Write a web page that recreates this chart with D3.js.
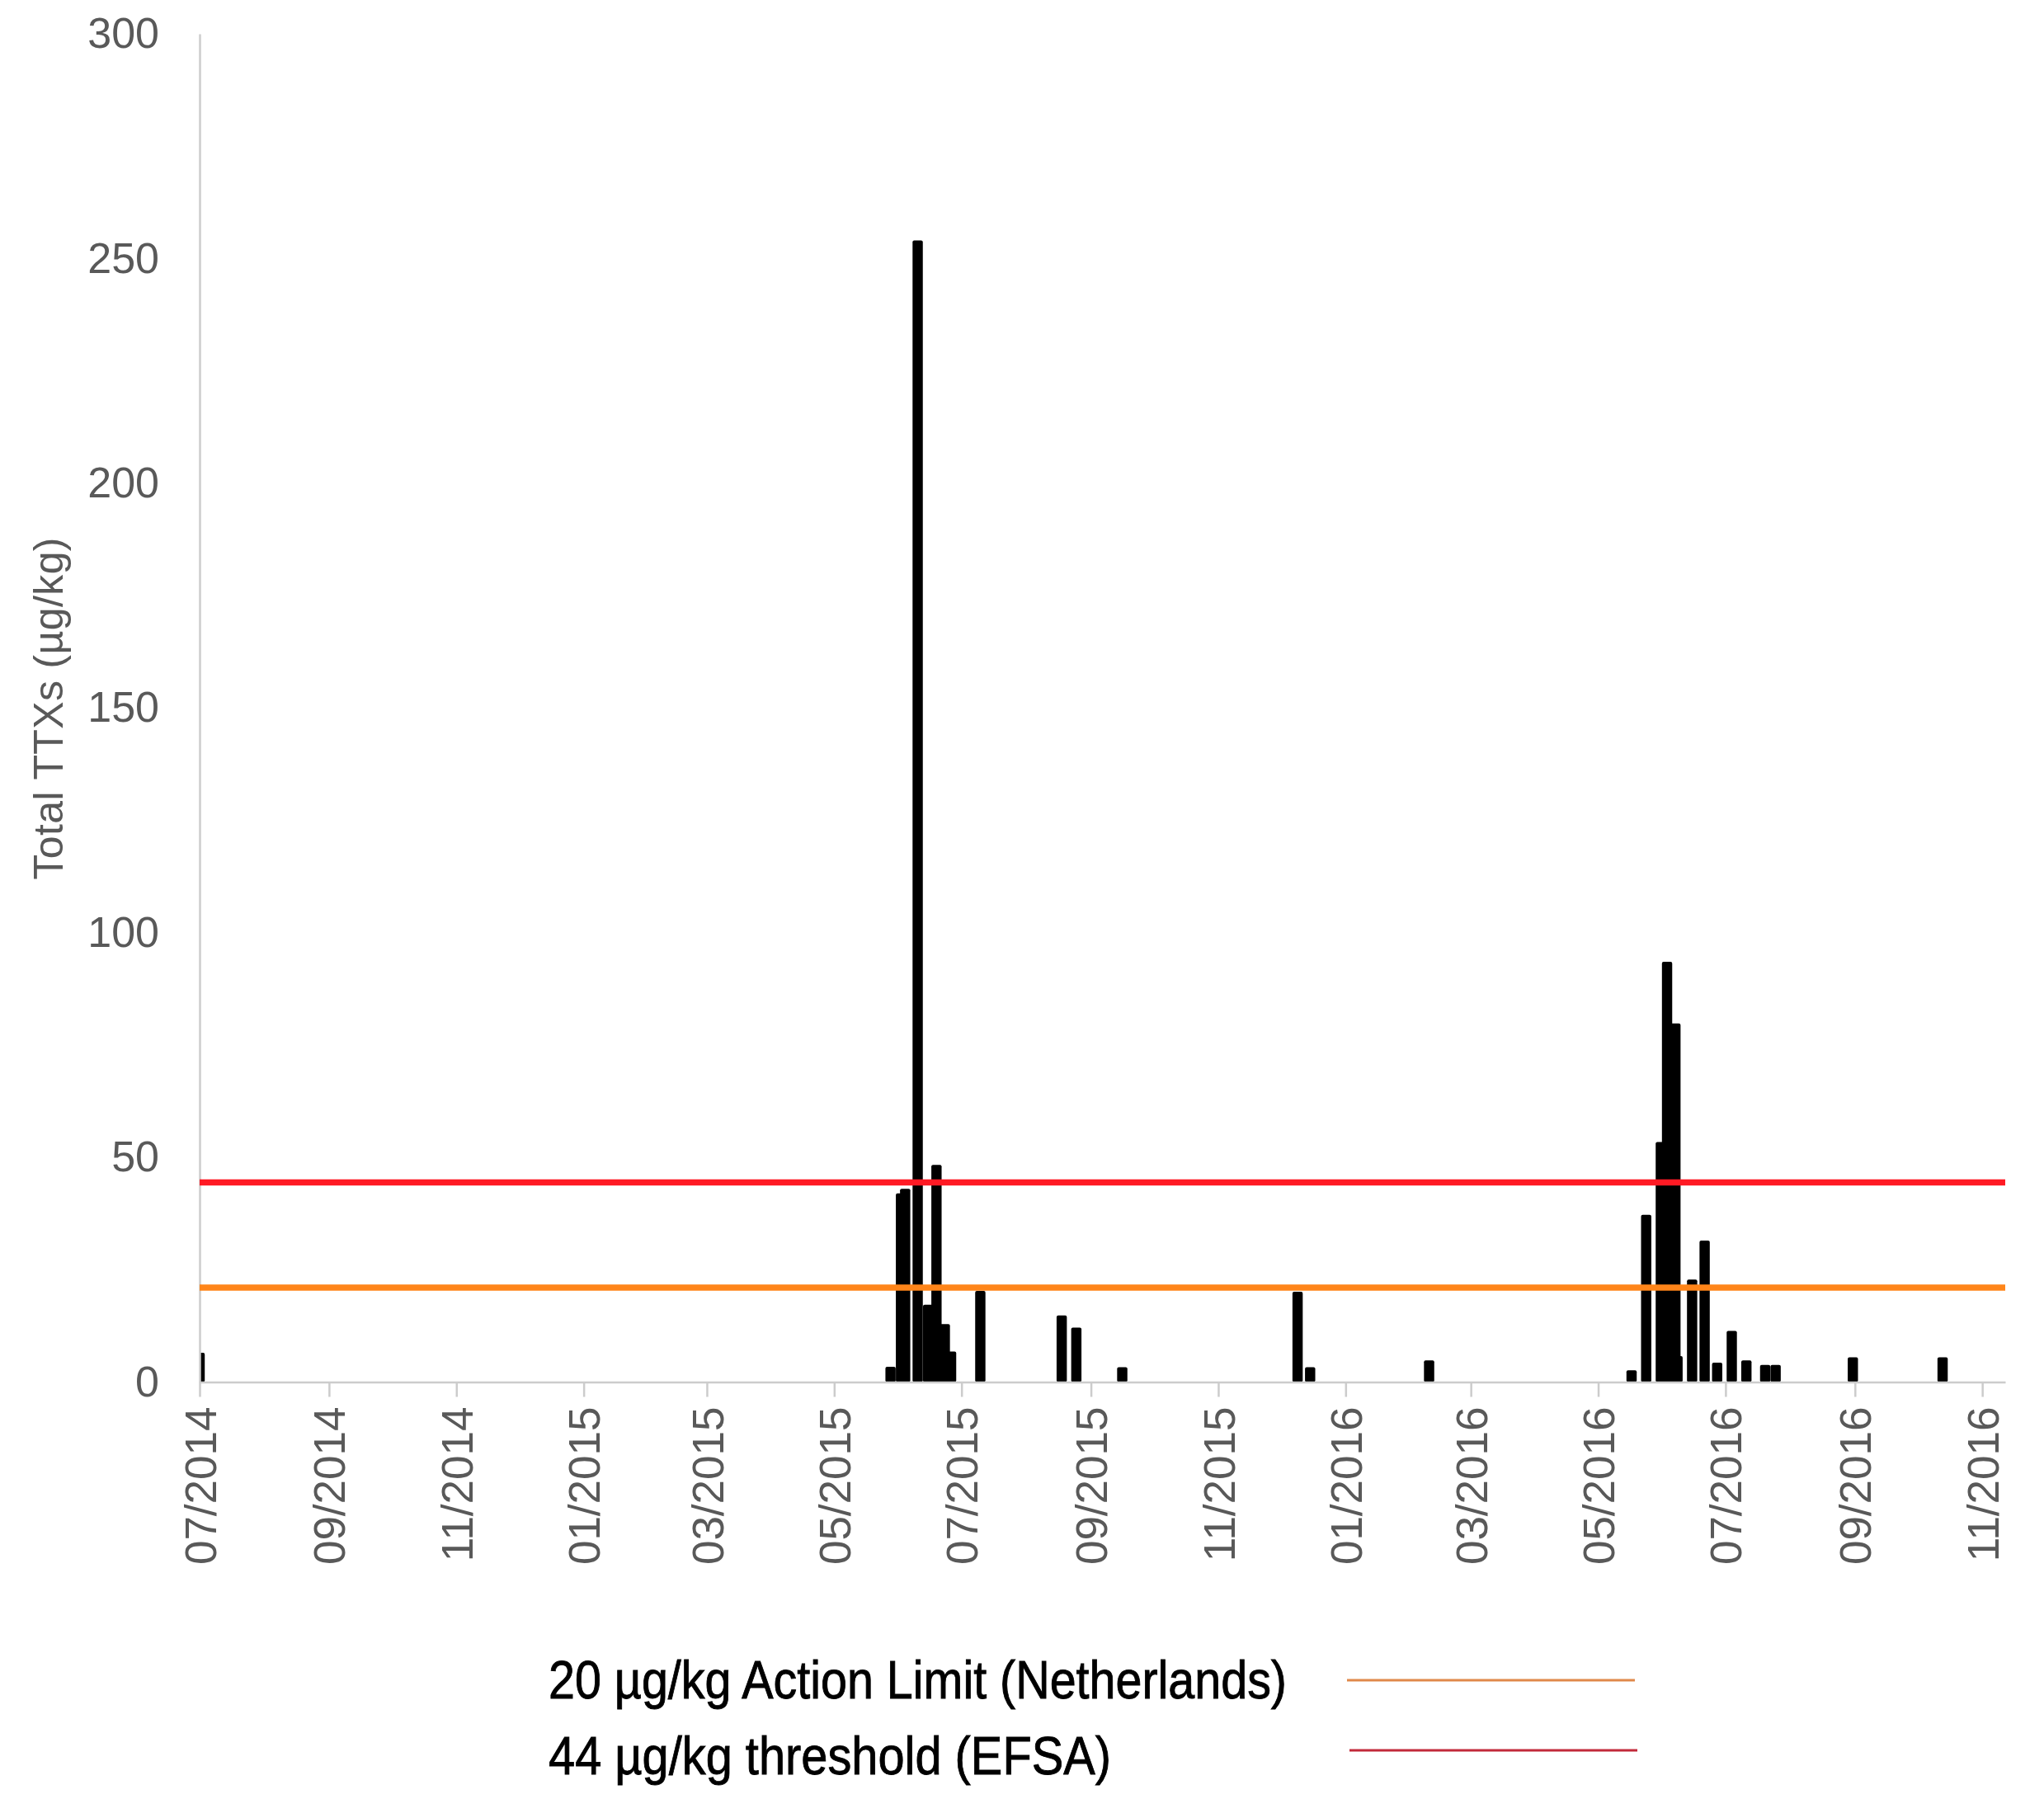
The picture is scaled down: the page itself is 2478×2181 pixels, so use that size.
<!DOCTYPE html>
<html>
<head>
<meta charset="utf-8">
<script src="https://cdn.jsdelivr.net/npm/d3@7"></script>
<style>
  body { margin: 0; background: #fff; }
  text { font-family: "Liberation Sans", Arial, sans-serif; }
</style>
</head>
<body>
<script>
// sample dates and total TTX values (µg/kg)
const sampleDates = [
  "2014-07-01",
  "2015-05-28", "2015-06-02", "2015-06-04", "2015-06-10", "2015-06-15", "2015-06-19",
  "2015-06-23", "2015-06-26", "2015-07-10", "2015-08-18", "2015-08-25", "2015-09-16",
  "2015-12-09", "2015-12-15",
  "2016-02-10", "2016-05-17", "2016-05-24", "2016-05-31", "2016-06-03", "2016-06-07",
  "2016-06-08", "2016-06-15", "2016-06-21", "2016-06-27", "2016-07-04", "2016-07-11",
  "2016-07-20", "2016-07-25", "2016-08-31", "2016-10-13"
];
const ttxValues = [
  6.5,
  3.4, 42, 43, 254, 17.2, 48.3,
  12.9, 6.8, 20.3, 14.8, 12.1, 3.3,
  20.1, 3.3,
  4.8, 2.6, 37.2, 53.4, 93.5, 79.8,
  5.8, 22.8, 31.5, 4.3, 11.4, 4.8,
  3.8, 3.8, 5.5, 5.5
];

// reference limits
const limitNames = ["20 µg/kg Action Limit (Netherlands)", "44 µg/kg threshold (EFSA)"];
const limitValues = [21, 44.4];
const limitColors = ["#ff8519", "#ff1a24"];
const legendColors = ["#e0894a", "#c22a3a"];

const yTicks = [0, 50, 100, 150, 200, 250, 300];
const xStart = "2014-07-01", xEnd = "2016-11-12";

const W = 2478, H = 2181;
const parse = d3.timeParse("%Y-%m-%d");
const data = sampleDates.map((d, i) => ({date: parse(d), value: ttxValues[i]}));

const svg = d3.select("body").append("svg")
    .attr("width", W)
    .attr("height", H);

svg.append("rect").attr("width", W).attr("height", H).attr("fill", "#fff");

const x = d3.scaleTime()
    .domain([parse(xStart), parse(xEnd)])
    .range([242, 2431]);

const y = d3.scaleLinear()
    .domain([0, 300])
    .range([1675.5, 41]);

svg.append("clipPath").attr("id", "plot")
  .append("rect")
    .attr("x", 242).attr("y", 0)
    .attr("width", 2431 - 242).attr("height", 1676);

// bars ~5 days wide
const barW = x(d3.timeHour.offset(parse(xStart), 118)) - x(parse(xStart));

svg.append("g")
    .attr("clip-path", "url(#plot)")
  .selectAll("rect")
  .data(data)
  .join("rect")
    .attr("x", d => x(d.date) - barW / 2)
    .attr("y", d => y(d.value))
    .attr("width", barW)
    .attr("height", d => y(0) - y(d.value))
    .attr("rx", 2)
    .attr("fill", "#000");

// y axis
const yAxis = svg.append("g")
    .attr("transform", "translate(242,0)")
    .call(d3.axisLeft(y).tickValues(yTicks).tickSize(0).tickPadding(49));
yAxis.select(".domain").attr("stroke", "#cccccc").attr("stroke-width", 2.5);
yAxis.selectAll("text")
    .attr("font-size", 52)
    .attr("font-family", "Liberation Sans, Arial, sans-serif")
    .attr("fill", "#595959");

// x axis
const xAxis = svg.append("g")
    .attr("transform", "translate(0,1675.5)")
    .call(d3.axisBottom(x)
        .ticks(d3.timeMonth.every(2))
        .tickFormat(d3.timeFormat("%m/%Y"))
        .tickSize(18)
        .tickSizeOuter(0));
xAxis.select(".domain").attr("stroke", "#cccccc").attr("stroke-width", 2.5);
xAxis.selectAll(".tick line").attr("stroke", "#cccccc").attr("stroke-width", 2.5);
xAxis.selectAll("text")
    .attr("font-size", 53)
    .attr("font-family", "Liberation Sans, Arial, sans-serif")
    .attr("fill", "#595959")
    .attr("text-anchor", "end")
    .attr("transform", "rotate(-90)")
    .attr("x", -30)
    .attr("y", 0)
    .attr("dy", "0.36em");

// limit lines on top of bars
svg.append("g")
  .selectAll("line")
  .data(limitValues)
  .join("line")
    .attr("x1", x.range()[0])
    .attr("x2", x.range()[1])
    .attr("y1", d => y(d))
    .attr("y2", d => y(d))
    .attr("stroke", (d, i) => limitColors[i])
    .attr("stroke-width", 7.5);

// y title
svg.append("text")
    .attr("transform", "translate(76,859) rotate(-90)")
    .attr("text-anchor", "middle")
    .attr("font-size", 50)
    .attr("fill", "#595959")
    .attr("textLength", 415)
    .attr("lengthAdjust", "spacing")
    .text("Total TTXs (µg/kg)");

// legend
const legendY = [2059, 2151];
const legendLineY = [2037, 2122];
const legendLen = [895, 682];
const legend = svg.append("g");
legend.selectAll("text")
  .data(limitNames)
  .join("text")
    .attr("x", 665)
    .attr("y", (d, i) => legendY[i])
    .attr("font-size", 64)
    .attr("fill", "#000")
    .attr("stroke", "#000")
    .attr("stroke-width", 0.9)
    .attr("textLength", (d, i) => legendLen[i])
    .attr("lengthAdjust", "spacingAndGlyphs")
    .text(d => d);
legend.selectAll("line")
  .data(limitNames)
  .join("line")
    .attr("x1", (d, i) => 1633 + i * 3)
    .attr("x2", (d, i) => 1982 + i * 3)
    .attr("y1", (d, i) => legendLineY[i])
    .attr("y2", (d, i) => legendLineY[i])
    .attr("stroke", (d, i) => legendColors[i])
    .attr("stroke-width", 3);
</script>
</body>
</html>
